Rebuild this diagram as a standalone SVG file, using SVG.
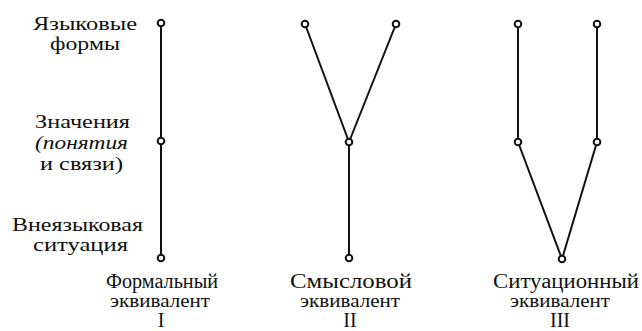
<svg xmlns="http://www.w3.org/2000/svg" width="642" height="331" viewBox="0 0 642 331">
<style>
.lbl{font-family:"Liberation Serif","Times New Roman",serif;font-size:18px;fill:#111}
.cap{font-family:"Liberation Serif","Times New Roman",serif;font-size:20px;fill:#111;text-anchor:middle}
.sub{font-family:"Liberation Serif","Times New Roman",serif;font-size:18px;fill:#111;text-anchor:middle}
.num{font-family:"Liberation Serif","Times New Roman",serif;font-size:20px;fill:#111;text-anchor:middle}
.it{font-style:italic}
.edge{stroke:#111;stroke-width:2;fill:none;stroke-linecap:round}
.node{fill:#fff;stroke:#111;stroke-width:2}
</style>
<rect width="642" height="331" fill="#fff"/>
<g id="row-labels">
<text class="lbl" x="33" y="30" textLength="104" lengthAdjust="spacingAndGlyphs">Языковые</text>
<text class="lbl" x="50" y="50" textLength="70" lengthAdjust="spacingAndGlyphs">формы</text>
<text class="lbl" x="35" y="128" textLength="95" lengthAdjust="spacingAndGlyphs">Значения</text>
<text class="lbl it" x="35" y="149" textLength="93" lengthAdjust="spacingAndGlyphs">(понятия</text>
<text class="lbl" x="40" y="170" textLength="83" lengthAdjust="spacingAndGlyphs">и связи)</text>
<text class="lbl" x="12" y="231" textLength="131" lengthAdjust="spacingAndGlyphs">Внеязыковая</text>
<text class="lbl" x="33" y="251" textLength="95" lengthAdjust="spacingAndGlyphs">ситуация</text>
</g>
<g id="connectors">
<line class="edge" x1="161" y1="23" x2="161" y2="141"/>
<line class="edge" x1="161" y1="141" x2="161" y2="258"/>
<line class="edge" x1="305" y1="24" x2="349" y2="142"/>
<line class="edge" x1="396" y1="24" x2="349" y2="142"/>
<line class="edge" x1="349" y1="142" x2="349" y2="258"/>
<line class="edge" x1="518" y1="24" x2="518" y2="142"/>
<line class="edge" x1="597" y1="24" x2="597" y2="142"/>
<line class="edge" x1="518" y1="142" x2="562" y2="259"/>
<line class="edge" x1="597" y1="142" x2="562" y2="259"/>
</g>
<g id="n1-form"><circle class="node" cx="161" cy="23" r="3.3"/></g>
<g id="n1-meaning"><circle class="node" cx="161" cy="141" r="3.3"/></g>
<g id="n1-situation"><circle class="node" cx="161" cy="258" r="3.3"/></g>
<g id="n2-form-a"><circle class="node" cx="305" cy="24" r="3.3"/></g>
<g id="n2-form-b"><circle class="node" cx="396" cy="24" r="3.3"/></g>
<g id="n2-meaning"><circle class="node" cx="349" cy="142" r="3.3"/></g>
<g id="n2-situation"><circle class="node" cx="349" cy="258" r="3.3"/></g>
<g id="n3-form-a"><circle class="node" cx="518" cy="24" r="3.3"/></g>
<g id="n3-form-b"><circle class="node" cx="597" cy="24" r="3.3"/></g>
<g id="n3-meaning-a"><circle class="node" cx="518" cy="142" r="3.3"/></g>
<g id="n3-meaning-b"><circle class="node" cx="597" cy="142" r="3.3"/></g>
<g id="n3-situation"><circle class="node" cx="562" cy="259" r="3.3"/></g>
<g id="caption-I">
<text class="cap" x="162" y="288" textLength="112" lengthAdjust="spacingAndGlyphs">Формальный</text>
<text class="sub" x="160" y="307" textLength="100" lengthAdjust="spacingAndGlyphs">эквивалент</text>
<text class="num" x="161" y="327">I</text>
</g>
<g id="caption-II">
<text class="cap" x="351" y="288" textLength="122" lengthAdjust="spacingAndGlyphs">Смысловой</text>
<text class="sub" x="350" y="307" textLength="100" lengthAdjust="spacingAndGlyphs">эквивалент</text>
<text class="num" x="350" y="327">II</text>
</g>
<g id="caption-III">
<text class="cap" x="566" y="288" textLength="146" lengthAdjust="spacingAndGlyphs">Ситуационный</text>
<text class="sub" x="560" y="307" textLength="100" lengthAdjust="spacingAndGlyphs">эквивалент</text>
<text class="num" x="560" y="327">III</text>
</g>
</svg>
